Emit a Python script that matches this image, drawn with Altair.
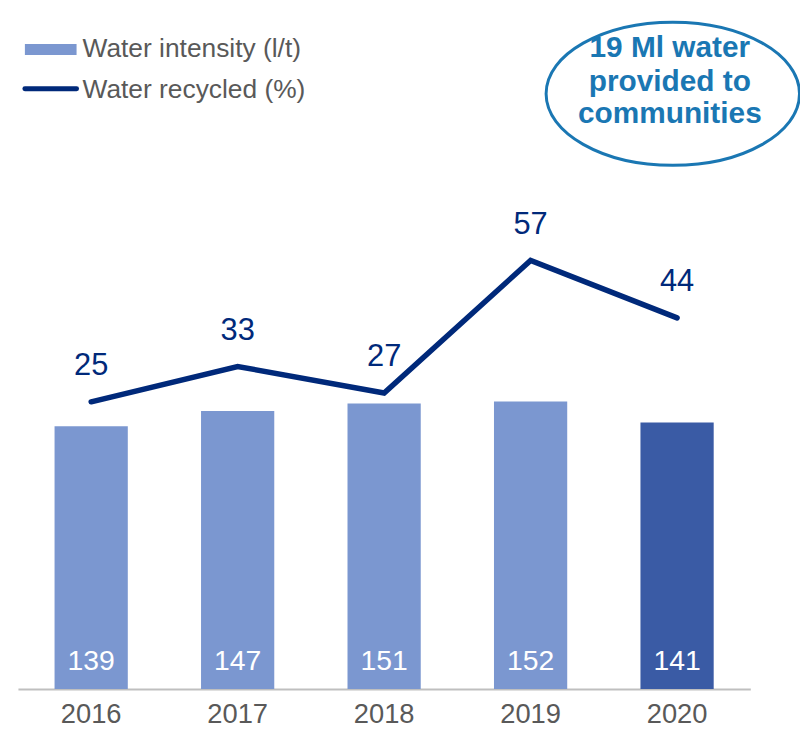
import altair as alt
import pandas as pd

years = ["2016", "2017", "2018", "2019", "2020"]
intensity = [139, 147, 151, 152, 141]
recycled = [25, 33, 27, 57, 44]
highlight = [False, False, False, False, True]

legend_labels = ["Water intensity (l/t)", "Water recycled (%)"]
callout_lines = ["19 Ml water", "provided to", "communities"]

FONT = "Liberation Sans"
BAR_LIGHT = "#7B97D0"
BAR_DARK = "#3A5BA5"
LINE_C = "#00297A"
GREY = "#595959"
CALLOUT = "#1A77B3"

W, H = 737, 489

df = pd.DataFrame({"year": years, "intensity": intensity,
                   "recycled": recycled, "hl": highlight})

xenc = alt.X("year:N", sort=years,
             scale=alt.Scale(paddingInner=0.5, paddingOuter=0.25),
             axis=alt.Axis(title=None, labelFontSize=27.5, labelColor=GREY,
                           labelFont=FONT, ticks=False, tickSize=0,
                           labelPadding=12, domainColor="#BFBFBF",
                           domainWidth=2, labelAngle=0, grid=False))

ybar = alt.Scale(domain=[0, 257])
yline = alt.Scale(domain=[-40, 70])

base = alt.Chart(df)

bars = base.mark_bar().encode(
    x=xenc,
    y=alt.Y("intensity:Q", scale=ybar, axis=None),
    color=alt.condition(alt.datum.hl, alt.value(BAR_DARK), alt.value(BAR_LIGHT)),
)
bar_labels = base.mark_text(fontSize=28.5, font=FONT, color="white",
                            baseline="middle", dy=-28).encode(
    x=xenc,
    y=alt.YDatum(0, type="quantitative", scale=ybar, axis=None),
    text=alt.Text("intensity:Q"),
)
bar_layer = alt.layer(bars, bar_labels)

line = base.mark_line(color=LINE_C, strokeWidth=5.5, strokeCap="round").encode(
    x=xenc,
    y=alt.Y("recycled:Q", scale=yline, axis=None),
)
line_labels = base.mark_text(fontSize=31, font=FONT, color=LINE_C,
                             baseline="middle", dy=-36).encode(
    x=xenc,
    y=alt.Y("recycled:Q", scale=yline, axis=None),
    text=alt.Text("recycled:Q"),
)
line_layer = alt.layer(line, line_labels)

one = alt.Chart(pd.DataFrame({"k": [0]}))

leg_rect = one.mark_rect(color=BAR_LIGHT).encode(
    x=alt.value(7), x2=alt.value(59), y=alt.value(-160), y2=alt.value(-149))
leg_rule = one.mark_rule(color=LINE_C, strokeWidth=5, strokeCap="round").encode(
    x=alt.value(7), x2=alt.value(59), y=alt.value(-115))
leg_t1 = one.mark_text(align="left", baseline="middle", fontSize=26.5, font=FONT,
                       color=GREY, text=legend_labels[0]).encode(
    x=alt.value(65), y=alt.value(-155))
leg_t2 = one.mark_text(align="left", baseline="middle", fontSize=26.5, font=FONT,
                       color=GREY, text=legend_labels[1]).encode(
    x=alt.value(65), y=alt.value(-114))

ellipse = one.mark_point(
    shape="M-1,0 A1,0.565 0 1,1 1,0 A1,0.565 0 1,1 -1,0 Z",
    size=255 * 255, filled=False, stroke=CALLOUT, strokeWidth=3, opacity=1,
).encode(x=alt.value(659), y=alt.value(-110))

callouts = []
for t, yy in zip(callout_lines, [-156, -122, -90]):
    callouts.append(one.mark_text(align="center", baseline="middle", fontSize=30,
                                  fontWeight="bold", font=FONT, color=CALLOUT,
                                  text=t).encode(x=alt.value(656), y=alt.value(yy)))

chart = alt.layer(bar_layer, line_layer, leg_rect, leg_rule, leg_t1, leg_t2,
                  ellipse, *callouts).resolve_scale(y="independent").properties(
    width=W, height=H,
    autosize=alt.AutoSizeParams(type="none"),
    padding={"left": 10, "top": 194, "right": 50, "bottom": 38},
).configure_view(stroke=None)

chart.save("out.html", embed_options={"renderer": "svg", "actions": False})
